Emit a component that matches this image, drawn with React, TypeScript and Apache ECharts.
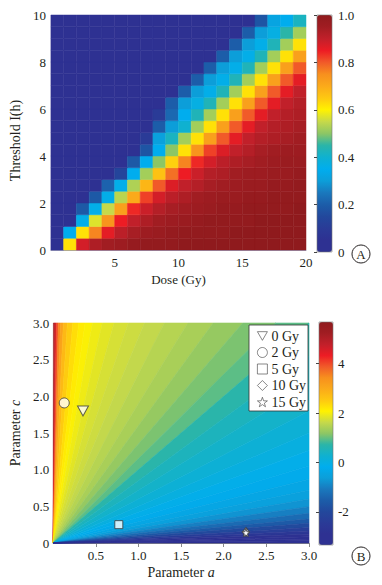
import React, { useEffect, useRef } from 'react';
import * as echarts from 'echarts';

// ---------- Panel A data ----------
// dose bins (Gy): bin d spans [d-1, d]
const doseBins = [1, 2, 3, 4, 5, 6, 7, 8, 9, 10, 11, 12, 13, 14, 15, 16, 17, 18, 19, 20];
// threshold bins (h): bin t spans [t, t+0.5]
const thresholdBins = [0, 0.5, 1, 1.5, 2, 2.5, 3, 3.5, 4, 4.5, 5, 5.5, 6, 6.5, 7, 7.5, 8, 8.5, 9, 9.5];
// rows follow thresholdBins (bottom -> top), columns follow doseBins
const probGrid = [
  [0.02, 0.62, 0.88, 0.93, 0.95, 0.96, 0.98, 0.99, 0.99, 0.99, 1, 1, 1, 1, 1, 1, 1, 1, 1, 1],
  [0.01, 0.35, 0.62, 0.76, 0.86, 0.91, 0.94, 0.96, 0.97, 0.98, 0.99, 0.99, 0.99, 0.99, 1, 1, 1, 1, 1, 1],
  [0, 0.04, 0.36, 0.57, 0.74, 0.85, 0.9, 0.93, 0.95, 0.96, 0.97, 0.98, 0.99, 0.99, 0.99, 0.99, 1, 1, 1, 1],
  [0, 0.02, 0.19, 0.36, 0.55, 0.72, 0.84, 0.89, 0.92, 0.94, 0.95, 0.96, 0.97, 0.98, 0.98, 0.99, 0.99, 0.99, 0.99, 1],
  [0, 0, 0.04, 0.19, 0.36, 0.54, 0.7, 0.82, 0.88, 0.91, 0.93, 0.95, 0.96, 0.97, 0.97, 0.98, 0.98, 0.99, 0.99, 0.99],
  [0, 0, 0, 0.04, 0.21, 0.36, 0.53, 0.68, 0.8, 0.87, 0.9, 0.92, 0.94, 0.95, 0.96, 0.97, 0.97, 0.98, 0.98, 0.99],
  [0, 0, 0, 0, 0.05, 0.14, 0.35, 0.52, 0.66, 0.78, 0.85, 0.89, 0.92, 0.93, 0.95, 0.96, 0.96, 0.97, 0.97, 0.98],
  [0, 0, 0, 0, 0, 0.04, 0.19, 0.35, 0.5, 0.64, 0.76, 0.84, 0.88, 0.91, 0.93, 0.94, 0.95, 0.96, 0.97, 0.97],
  [0, 0, 0, 0, 0, 0, 0.05, 0.18, 0.35, 0.5, 0.62, 0.74, 0.82, 0.87, 0.9, 0.92, 0.94, 0.95, 0.96, 0.96],
  [0, 0, 0, 0, 0, 0, 0, 0.1, 0.31, 0.42, 0.52, 0.62, 0.72, 0.8, 0.86, 0.9, 0.92, 0.93, 0.94, 0.95],
  [0, 0, 0, 0, 0, 0, 0, 0.03, 0.2, 0.3, 0.4, 0.52, 0.62, 0.72, 0.8, 0.86, 0.9, 0.92, 0.93, 0.94],
  [0, 0, 0, 0, 0, 0, 0, 0, 0.1, 0.22, 0.35, 0.43, 0.52, 0.62, 0.72, 0.8, 0.86, 0.9, 0.92, 0.93],
  [0, 0, 0, 0, 0, 0, 0, 0, 0.03, 0.2, 0.3, 0.37, 0.43, 0.52, 0.62, 0.72, 0.8, 0.86, 0.9, 0.92],
  [0, 0, 0, 0, 0, 0, 0, 0, 0, 0.05, 0.2, 0.3, 0.36, 0.43, 0.52, 0.62, 0.72, 0.8, 0.86, 0.9],
  [0, 0, 0, 0, 0, 0, 0, 0, 0, 0, 0.05, 0.2, 0.3, 0.36, 0.43, 0.52, 0.62, 0.72, 0.8, 0.86],
  [0, 0, 0, 0, 0, 0, 0, 0, 0, 0, 0, 0.05, 0.2, 0.3, 0.36, 0.43, 0.52, 0.62, 0.72, 0.8],
  [0, 0, 0, 0, 0, 0, 0, 0, 0, 0, 0, 0, 0.05, 0.2, 0.3, 0.36, 0.43, 0.52, 0.62, 0.72],
  [0, 0, 0, 0, 0, 0, 0, 0, 0, 0, 0, 0, 0, 0.05, 0.2, 0.3, 0.36, 0.43, 0.52, 0.62],
  [0, 0, 0, 0, 0, 0, 0, 0, 0, 0, 0, 0, 0, 0, 0.05, 0.2, 0.3, 0.37, 0.45, 0.52],
  [0, 0, 0, 0, 0, 0, 0, 0, 0, 0, 0, 0, 0, 0, 0, 0.05, 0.18, 0.32, 0.35, 0.42],
];
const doseBinWidth = 1;
const thresholdBinHeight = 0.5;

// ---------- Panel B data ----------
// field is constant along rays c/a = const; wedges between consecutive ratios
const rayRatios = [1000, 150, 80, 50, 35, 25, 18, 13, 10, 8, 6.5, 5.2, 4.2, 3.4, 2.8, 2.3, 1.9, 1.6, 1.35, 1.15, 1.0, 0.85, 0.72, 0.6, 0.5, 0.42, 0.35, 0.29, 0.24, 0.2, 0.165, 0.135, 0.11, 0.09, 0.07, 0.055, 0.04, 0.028, 0.018, 0.01, 0];
const wedgeValues = [5.3, 4.6, 4.0, 3.5, 3.1, 2.75, 2.5, 2.3, 2.15, 2.05, 1.95, 1.85, 1.75, 1.68, 1.6, 1.5, 1.4, 1.25, 1.1, 0.95, 0.7, 0.5, 0.35, 0.2, 0.05, -0.1, -0.25, -0.4, -0.55, -0.75, -1.0, -1.3, -1.6, -1.95, -2.3, -2.6, -2.85, -3.05, -3.2, -3.3];
const markerNames = ['0 Gy', '2 Gy', '5 Gy', '10 Gy', '15 Gy'];
const markerA = [0.35, 0.13, 0.77, 2.26, 2.26];
const markerC = [1.8, 1.91, 0.25, 0.15, 0.14];
const B_MAX = 3;
const bFieldMin = -3.34;
const bFieldMax = 5.69;
const bBarTicks = [-2, 0, 2, 4];

// ---------- styles ----------
const PALETTE = ['#2e3192', '#2e3192', '#2a3b97', '#22489c', '#1c5da9', '#1a78bd', '#0c9ed9', '#00adee', '#0fb1d0', '#2bb5a8', '#8cc665', '#c6d94a', '#fff200', '#fec811', '#fbaa1a', '#f7901e', '#f15a29', '#ed1c24', '#c1202a', '#a11d22', '#8f1a1d'];
const FONT = 'Liberation Serif';
const INK = '#231f20';

const markerSymbols = [
  'path://M0,0 L10,0 L5,8.66 Z',
  'circle',
  'rect',
  'diamond',
  'path://M0,-10 L2.35,-3.24 L9.51,-3.09 L3.8,1.24 L5.88,8.09 L0,4 L-5.88,8.09 L-3.8,1.24 L-9.51,-3.09 L-2.35,-3.24 Z',
];
const markerSizes = [[11, 10], 10, 8, [7, 9], 8];

const fmt1 = (v: number) => (v === 0 ? '0' : v.toFixed(1));

export default function App() {
  const ref = useRef<HTMLDivElement>(null);
  useEffect(() => {
    if (!ref.current) return;
    const chart = echarts.init(ref.current, null, { renderer: 'svg' });

    const cellData: number[][] = [];
    thresholdBins.forEach((t, ri) => {
      doseBins.forEach((d, ci) => {
        cellData.push([d - doseBinWidth, t, probGrid[ri][ci]]);
      });
    });
    const wedgeData = wedgeValues.map((v, i) => [rayRatios[i], rayRatios[i + 1], v]);

    const edgePoint = (s: number) => (s >= 1 ? [B_MAX / s, B_MAX] : [B_MAX, B_MAX * s]);

    const labelStyle = { fontFamily: FONT, fontSize: 13, color: INK };

    const scatterSeries = markerNames.map((name, i) => ({
      type: 'scatter',
      name,
      xAxisIndex: 1,
      yAxisIndex: 1,
      symbol: markerSymbols[i],
      symbolSize: markerSizes[i],
      itemStyle: { color: '#ffffff', borderColor: '#3a3a3a', borderWidth: 1 },
      data: [[markerA[i], markerC[i]]],
      z: 5,
    }));

    const option: any = {
      animation: false,
      backgroundColor: '#ffffff',
      textStyle: { fontFamily: FONT, color: INK },
      grid: [
        { left: 49, top: 15, width: 257, height: 235 },
        { left: 48, top: 323, width: 261, height: 220 },
        { left: 317, top: 15, width: 15, height: 237, show: true, borderColor: '#777', borderWidth: 0.6, backgroundColor: 'transparent', z: 6 },
        { left: 319, top: 322, width: 14, height: 223, show: true, borderColor: '#777', borderWidth: 0.6, backgroundColor: 'transparent', z: 6 },
      ],
      xAxis: [
        {
          gridIndex: 0, type: 'value', min: 0, max: 20, interval: 5,
          name: 'Dose (Gy)', nameLocation: 'middle', nameGap: 23,
          nameTextStyle: { fontFamily: FONT, fontSize: 13, color: INK },
          axisLine: { show: true, lineStyle: { color: '#9a9ab8', width: 1 } },
          axisTick: { show: false },
          splitLine: { show: false },
          axisLabel: { ...labelStyle, margin: 6, showMinLabel: false },
        },
        {
          gridIndex: 1, type: 'value', min: 0, max: 3, interval: 0.5,
          name: '{n|Parameter }{i|a}', nameLocation: 'middle', nameGap: 22,
          nameTextStyle: { rich: { n: { fontFamily: FONT, fontSize: 14, color: INK }, i: { fontFamily: FONT, fontSize: 14, fontStyle: 'italic', color: INK } } },
          axisLine: { show: true, lineStyle: { color: '#8a8a8a', width: 1 } },
          axisTick: { show: true, length: 4, lineStyle: { color: '#8a8a8a' } },
          splitLine: { show: false },
          axisLabel: { ...labelStyle, margin: 6, showMinLabel: false, formatter: fmt1 },
        },
        { gridIndex: 2, type: 'value', min: 0, max: 1, show: false },
        { gridIndex: 3, type: 'value', min: 0, max: 1, show: false },
      ],
      yAxis: [
        {
          gridIndex: 0, type: 'value', min: 0, max: 10, interval: 2,
          name: 'Threshold I(h)', nameLocation: 'middle', nameGap: 22,
          nameTextStyle: { fontFamily: FONT, fontSize: 14, color: INK, padding: [0, 16, 0, 0] },
          axisLine: { show: false }, axisTick: { show: false }, splitLine: { show: false },
          axisLabel: { ...labelStyle, margin: 5 },
        },
        {
          gridIndex: 1, type: 'value', min: 0, max: 3, interval: 0.5,
          name: '{n|Parameter }{i|c}', nameLocation: 'middle', nameGap: 25,
          nameTextStyle: { rich: { n: { fontFamily: FONT, fontSize: 14, color: INK }, i: { fontFamily: FONT, fontSize: 14, fontStyle: 'italic', color: INK } } },
          axisLine: { show: false }, axisTick: { show: false }, splitLine: { show: false },
          axisLabel: { ...labelStyle, margin: 4, formatter: fmt1 },
        },
        {
          gridIndex: 2, type: 'value', min: 0, max: 1, interval: 0.2, position: 'right', z: 10,
          axisLine: { show: false },
          axisTick: { show: true, inside: true, length: 3, lineStyle: { color: '#444' } },
          splitLine: { show: false },
          axisLabel: { ...labelStyle, margin: 6, formatter: fmt1 },
        },
        {
          gridIndex: 3, type: 'value', min: bFieldMin, max: bFieldMax, position: 'right', z: 10,
          axisLine: { show: false },
          axisTick: { show: true, inside: true, length: 3, lineStyle: { color: '#444' }, customValues: bBarTicks },
          splitLine: { show: false },
          axisLabel: { ...labelStyle, margin: 5, customValues: bBarTicks },
        },
      ],
      visualMap: [
        {
          type: 'continuous', seriesIndex: 0, dimension: 2, min: 0, max: 1,
          inRange: { color: PALETTE }, calculable: false, hoverLink: false,
          orient: 'vertical', left: 317, top: 15, itemWidth: 15, itemHeight: 237, padding: 0, text: null,
        },
        {
          type: 'continuous', seriesIndex: 1, dimension: 2, min: bFieldMin, max: bFieldMax,
          inRange: { color: PALETTE }, calculable: false, hoverLink: false,
          orient: 'vertical', left: 319, top: 322, itemWidth: 14, itemHeight: 223, padding: 0, text: null,
        },
      ],
      legend: {
        data: markerNames,
        orient: 'vertical',
        left: 249,
        top: 325,
        padding: [4, 2, 2, 8],
        itemGap: 2.5,
        itemWidth: 10,
        itemHeight: 10,
        backgroundColor: '#ffffff',
        borderColor: '#333',
        borderWidth: 0.8,
        borderRadius: 0,
        selectedMode: false,
        itemStyle: { color: '#ffffff', borderColor: '#444', borderWidth: 0.8 },
        textStyle: { fontFamily: FONT, fontSize: 14, color: INK, lineHeight: 14, padding: [0, 0, 0, -1] },
        z: 10,
      },
      series: [
        {
          type: 'custom',
          name: 'cells',
          xAxisIndex: 0,
          yAxisIndex: 0,
          data: cellData,
          renderItem: (params: any, api: any) => {
            const x0 = api.value(0);
            const y0 = api.value(1);
            const p0 = api.coord([x0, y0 + thresholdBinHeight]);
            const p1 = api.coord([x0 + doseBinWidth, y0]);
            const c = api.visual('color');
            return {
              type: 'rect',
              shape: { x: p0[0], y: p0[1], width: p1[0] - p0[0], height: p1[1] - p0[1] },
              style: { fill: c, stroke: c, lineWidth: 0.5 },
            };
          },
        },
        {
          type: 'custom',
          name: 'field',
          xAxisIndex: 1,
          yAxisIndex: 1,
          data: wedgeData,
          renderItem: (params: any, api: any) => {
            const sHi = api.value(0);
            const sLo = api.value(1);
            const pts: number[][] = [[0, 0], edgePoint(sHi)];
            if (sHi > 1 && sLo < 1) pts.push([B_MAX, B_MAX]);
            pts.push(edgePoint(sLo));
            const c = api.visual('color');
            return {
              type: 'polygon',
              shape: { points: pts.map((p) => api.coord(p)) },
              style: { fill: c, stroke: c, lineWidth: 0.6 },
            };
          },
        },
        ...scatterSeries,
      ],
      graphic: [
        { type: 'circle', shape: { cx: 361, cy: 254, r: 9 }, style: { fill: 'none', stroke: INK, lineWidth: 1 } },
        { type: 'text', x: 361, y: 254, style: { text: 'A', fontFamily: FONT, fontSize: 13, fill: INK, align: 'center', verticalAlign: 'middle' } },
        { type: 'circle', shape: { cx: 361, cy: 556, r: 9 }, style: { fill: 'none', stroke: INK, lineWidth: 1 } },
        { type: 'text', x: 361, y: 556, style: { text: 'B', fontFamily: FONT, fontSize: 13, fill: INK, align: 'center', verticalAlign: 'middle' } },
      ],
    };
    chart.setOption(option);
    return () => chart.dispose();
  }, []);
  return (
    <div
      ref={ref}
      style={{ position: 'fixed', left: 0, top: 0, width: 382, height: 585, background: '#ffffff' }}
    />
  );
}
